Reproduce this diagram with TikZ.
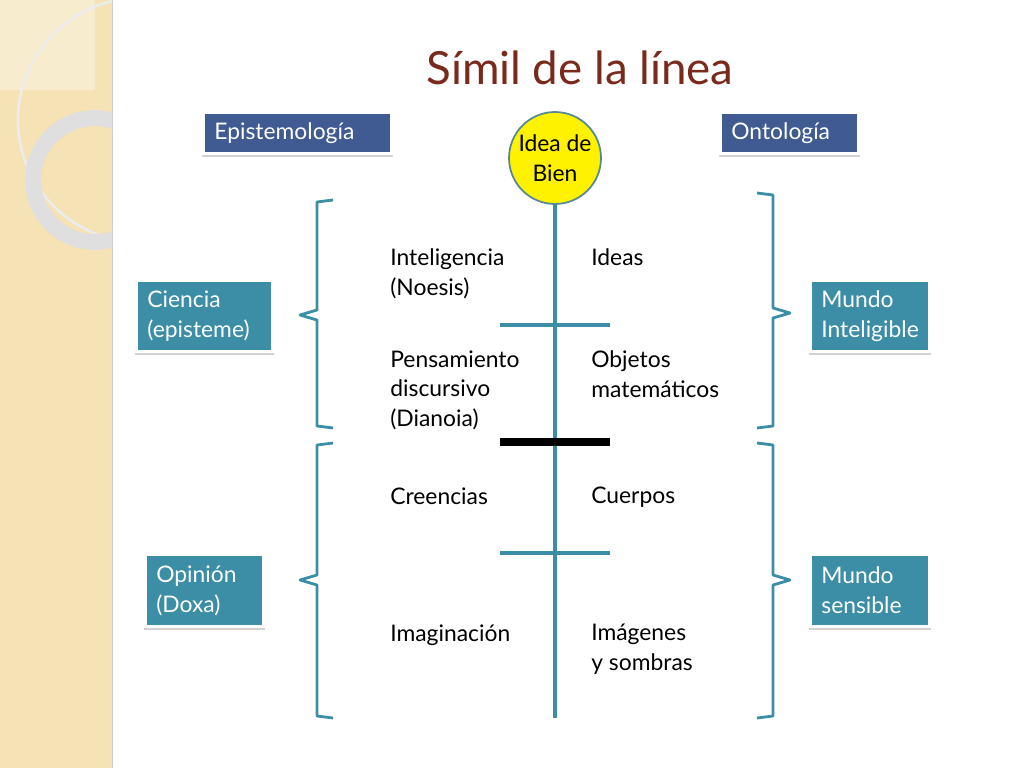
\documentclass[tikz,border=0pt]{standalone}
\usepackage{fontspec}
\setmainfont{Lato}
\definecolor{tealc}{HTML}{3B8EA5}
\definecolor{bluec}{HTML}{3F5B91}
\definecolor{titlec}{HTML}{7A2A1C}
\definecolor{tanc}{HTML}{F5E2B5}
\tikzset{
  lbl/.style={font=\fontsize{13}{17}\selectfont, align=left, anchor=north west, inner sep=0pt},
  tbox/.style={fill=#1, text=white, font=\fontsize{13}{17}\selectfont, align=left, anchor=north west, inner sep=4pt, text width=#1},
  boxfill/.style={fill=#1, text=white, font=\fontsize{13}{17}\selectfont, align=left, inner sep=0pt},
  brace/.style={tealc, line width=1.6pt, line join=round}
}
\begin{document}
\begin{tikzpicture}[x=0.02cm, y=-0.02cm]
\useasboundingbox (0,0) rectangle (1024,768);
% left stripe
\fill[tanc] (0,0) rectangle (112,768);
\draw[gray!40] (112,0) -- (112,768);
\begin{scope}
\clip (0,0) rectangle (112,768);
\fill[white, opacity=0.35] (0,0) rectangle (95,90);
\draw[white!85!gray, line width=1.5pt] (140,120) circle (122);
\draw[gray!25, line width=9pt] (95,180) circle (62);
\end{scope}
% title
\node (title) at (580,68) {\fontsize{26}{30}\selectfont\color{titlec} Símil de la línea};
% header boxes
\foreach \nm/\xa/\ya/\xb/\yb/\col/\txt in {
  epi/205/114/390/152/bluec/{Epistemología},
  onto/722/114/857/152/bluec/{Ontología},
  cien/138/282/271/350/tealc/{Ciencia\\(episteme)},
  opin/147/556/262/625/tealc/{Opinión\\(Doxa)},
  mint/812/282/928/350/tealc/{Mundo\\Inteligible},
  msen/812/556/928/625/tealc/{Mundo\\sensible}} {
  \draw[gray!35, line width=1.2pt] (\xa-3,\yb+4) -- (\xb+3,\yb+4);
  \fill[\col] (\xa,\ya) rectangle (\xb,\yb);
  \node[boxfill=\col, anchor=west] (\nm) at (\xa+9,{(\ya+\yb)/2}) {\txt};
}
% line
\node[circle, fill=yellow, draw=tealc!60!gray, line width=1pt, minimum size=92\pgflinewidth, minimum size=1.84cm, align=center, inner sep=0pt, font=\fontsize{13}{17}\selectfont] (bien) at (555,158) {Idea de\\Bien};
\coordinate (bottom) at (555,718);
\draw[tealc, line width=2pt] (bien.south) -- (bottom);
\coordinate (c1a) at (500,325); \coordinate (c1b) at (610,325);
\coordinate (c2a) at (500,442); \coordinate (c2b) at (610,442);
\coordinate (c3a) at (500,553); \coordinate (c3b) at (610,553);
\draw[tealc, line width=2pt] (c1a) -- (c1b);
\draw[black, line width=5pt] (c2a) -- (c2b);
\draw[tealc, line width=2pt] (c3a) -- (c3b);
% braces
\draw[brace] (333,200) -- (317,202) -- (317,310) -- (300,315) -- (317,320) -- (317,426) -- (333,428);
\draw[brace] (333,443) -- (317,445) -- (317,575) -- (300,580) -- (317,585) -- (317,716) -- (333,718);
\draw[brace] (757,193) -- (773,195) -- (773,308) -- (790,313) -- (773,318) -- (773,426) -- (757,428);
\draw[brace] (757,443) -- (773,445) -- (773,575) -- (790,580) -- (773,585) -- (773,716) -- (757,718);
% texts
\node[lbl] (intel) at (390,248) {Inteligencia\\(Noesis)};
\node[lbl] (ideas) at (591,248) {Ideas};
\node[lbl] (pens) at (390,350) {Pensamiento\\discursivo\\(Dianoia)};
\node[lbl] (objm) at (591,350) {Objetos\\matemáticos};
\node[lbl] (cree) at (390,487) {Creencias};
\node[lbl] (cuer) at (591,487) {Cuerpos};
\node[lbl] (imag) at (390,624) {Imaginación};
\node[lbl] (imgs) at (591,624) {Imágenes\\y sombras};
\end{tikzpicture}
\end{document}
